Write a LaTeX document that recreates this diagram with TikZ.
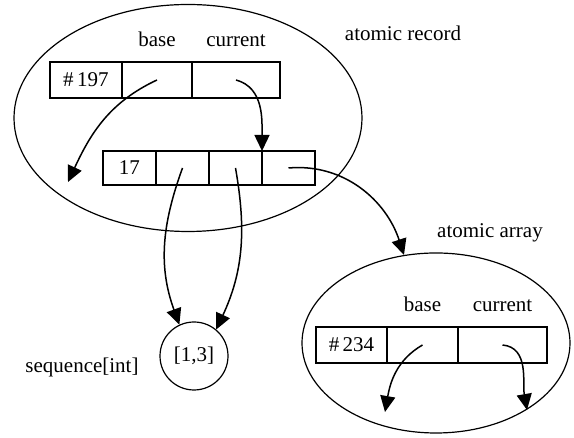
\documentclass[tikz,border=0pt]{standalone}
\usepackage{fontspec}
\setmainfont{Liberation Serif}
\usetikzlibrary{shapes.geometric,arrows.meta,positioning}

\begin{document}
\begin{tikzpicture}[
    x=0.5pt, y=0.5pt,
    font=\fontsize{10.5}{12}\selectfont,
    >={Triangle[length=8pt,width=7.5pt]},
    cell/.style={rectangle, draw=black, line width=0.9pt, outer sep=0pt,
      minimum height=18pt, inner sep=1pt},
    blob/.style={ellipse, draw=black, line width=0.6pt},
    ptr/.style={->, line width=0.75pt, draw=black},
    tag/.style={inner sep=1pt}
  ]
  \useasboundingbox (0,0) rectangle (574,438);
  % atomic record
  \node[blob, minimum width=174pt, minimum height=113.5pt] (rec) at (188,320) {};
  \node[tag] (rectag) at (403,405) {atomic record};
  \node[cell, minimum width=36pt, anchor=west] (rid) at (50,358) {\#\,197};
  \node[cell, minimum width=35pt, right=0pt of rid] (rbase) {};
  \node[cell, minimum width=44pt, right=0pt of rbase] (rcur) {};
  \node[tag, above=6.5pt of rbase] (rbasetag) {base};
  \node[tag, above=6.5pt of rcur] (rcurtag) {current};
  % the sequence inside
  \node[cell, minimum width=26.5pt, minimum height=17pt, anchor=west] (sa) at (103,270) {17};
  \node[cell, minimum width=26.5pt, minimum height=17pt, right=0pt of sa] (sb) {};
  \node[cell, minimum width=26.5pt, minimum height=17pt, right=0pt of sb] (sc) {};
  \node[cell, minimum width=26.5pt, minimum height=17pt, right=0pt of sc] (sd) {};
  % sequence[int]
  \node[circle, draw=black, line width=0.6pt, minimum size=34pt, inner sep=0pt] (seq) at (194,82) {[1,3]};
  \node[tag] (seqtag) at (82,71) {sequence[int]};
  % atomic array
  \node[blob, minimum width=134pt, minimum height=90pt] (arr) at (436,95) {};
  \node[tag] (arrtag) at (490,205) {atomic array};
  \node[cell, minimum width=35.5pt, anchor=west] (aid) at (316,93) {\#\,234};
  \node[cell, minimum width=35.5pt, right=0pt of aid] (abase) {};
  \node[cell, minimum width=44.5pt, right=0pt of abase] (acur) {};
  \node[tag, above=6.5pt of abase] (abasetag) {base};
  \node[tag, above=6.5pt of acur] (acurtag) {current};
  % loose ends
  \coordinate (rbaseend) at (68,256);
  \coordinate (abaseend) at (385,26);
  \coordinate (acurend) at (527,28);
  % pointers
  \draw[ptr] (rbase.center) to[out=205, in=65] (rbaseend);
  \draw[ptr] (rcur.center) to[out=-15, in=90] (sc.north east);
  \draw[ptr] (sd.center) to[out=5, in=108] (arr.110);
  \draw[ptr] (sb.center) to[out=250, in=110] (seq.115);
  \draw[ptr] (sc.center) to[out=280, in=65] (seq.50);
  \draw[ptr] (abase.center) to[out=210, in=80] (abaseend);
  \draw[ptr] (acur.center) to[out=-5, in=100] (acurend);
\end{tikzpicture}
\end{document}
